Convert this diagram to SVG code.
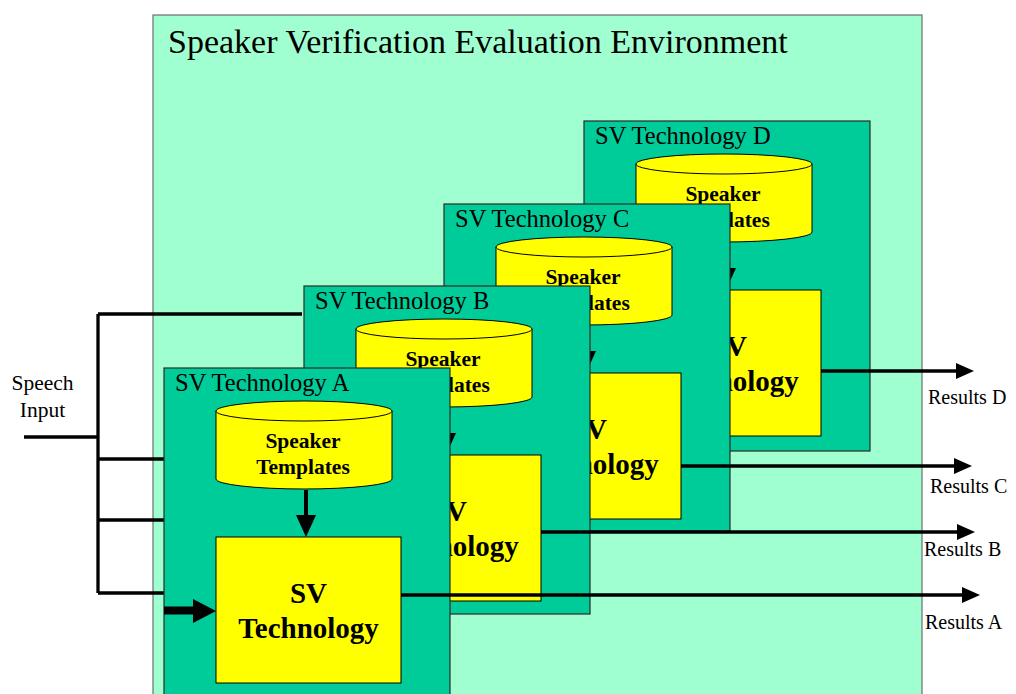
<svg xmlns="http://www.w3.org/2000/svg" width="1016" height="694" viewBox="0 0 1016 694">
<style>
.env{fill:#A0FFD0;stroke:#6E6E6E;stroke-width:1.2}
.panel{fill:#00CC99;stroke:#2A2A2A;stroke-width:1.2}
.yel{fill:#FFFF00;stroke:#000;stroke-width:1}
.ptitle{font-family:"Liberation Serif",serif;font-size:24.5px;fill:#000}
.cyl{font-family:"Liberation Serif",serif;font-size:21.5px;font-weight:bold;fill:#000;text-anchor:middle}
.svt{font-family:"Liberation Serif",serif;font-size:29px;font-weight:bold;fill:#000;text-anchor:middle}
.lbl{font-family:"Liberation Serif",serif;font-size:20px;fill:#000}
.wire{stroke:#000;stroke-width:3.3;fill:none}
.blk{fill:#000;stroke:none}
</style>
<defs>
<marker id="ah" viewBox="0 -8 18 16" markerWidth="18" markerHeight="16" refX="0" refY="0" orient="auto" markerUnits="userSpaceOnUse">
<path d="M0,-8 L18,0 L0,8 Z" fill="#000"/>
</marker>
</defs>

<g id="environment">
<rect class="env" x="153" y="15" width="769" height="700"/>
<text class="lbl" x="168" y="53" style="font-size:34px">Speaker Verification Evaluation Environment</text>
</g>

<g id="speech-input">
<text class="lbl" x="42.5" y="390" text-anchor="middle" style="font-size:21.5px">Speech</text>
<text class="lbl" x="42.5" y="417" text-anchor="middle" style="font-size:21.5px">Input</text>
</g>

<g id="connectors-input">
<path class="wire" d="M24,437 H98 M98,314 V593 M98,314 H302 M98,459 H164 M98,520 H164 M98,593 H164"/>
</g>

<g id="tech-d" transform="translate(584,121)">
<rect class="panel" x="0" y="0" width="286" height="330"/>
<text class="ptitle" x="11" y="23">SV Technology D</text>
<path class="yel" d="M52,43 V111 A88,10 0 0 0 228,111 V43 Z"/>
<ellipse class="yel" cx="140" cy="43" rx="88" ry="10"/>
<text class="cyl" x="139" y="80">Speaker</text>
<text class="cyl" x="139" y="106">Templates</text>
<rect class="blk" x="140" y="122" width="4" height="26"/>
<polygon class="blk" points="132,147 152,147 142,169"/>
<rect class="yel" x="52" y="169" width="185" height="146"/>
<text class="svt" x="144.5" y="235">SV</text>
<text class="svt" x="144.5" y="270">Technology</text>
</g>
<g id="out-d">
<line class="wire" x1="821" y1="371" x2="956" y2="371" marker-end="url(#ah)"/>
<text class="lbl" x="928" y="404">Results D</text>
</g>

<g id="tech-c" transform="translate(444,204)">
<rect class="panel" x="0" y="0" width="286" height="327"/>
<text class="ptitle" x="11" y="23">SV Technology C</text>
<path class="yel" d="M52,43 V111 A88,10 0 0 0 228,111 V43 Z"/>
<ellipse class="yel" cx="140" cy="43" rx="88" ry="10"/>
<text class="cyl" x="139" y="80">Speaker</text>
<text class="cyl" x="139" y="106">Templates</text>
<rect class="blk" x="140" y="122" width="4" height="26"/>
<polygon class="blk" points="132,147 152,147 142,169"/>
<rect class="yel" x="52" y="169" width="185" height="146"/>
<text class="svt" x="144.5" y="235">SV</text>
<text class="svt" x="144.5" y="270">Technology</text>
</g>
<g id="out-c">
<line class="wire" x1="681" y1="466" x2="954" y2="466" marker-end="url(#ah)"/>
<text class="lbl" x="930" y="493">Results C</text>
</g>

<g id="tech-b" transform="translate(304,286)">
<rect class="panel" x="0" y="0" width="286" height="328"/>
<text class="ptitle" x="11" y="23">SV Technology B</text>
<path class="yel" d="M52,43 V111 A88,10 0 0 0 228,111 V43 Z"/>
<ellipse class="yel" cx="140" cy="43" rx="88" ry="10"/>
<text class="cyl" x="139" y="80">Speaker</text>
<text class="cyl" x="139" y="106">Templates</text>
<rect class="blk" x="140" y="122" width="4" height="26"/>
<polygon class="blk" points="132,147 152,147 142,169"/>
<rect class="yel" x="52" y="169" width="185" height="146"/>
<text class="svt" x="144.5" y="235">SV</text>
<text class="svt" x="144.5" y="270">Technology</text>
</g>
<g id="out-b">
<line class="wire" x1="541" y1="532" x2="957" y2="532" marker-end="url(#ah)"/>
<text class="lbl" x="924" y="556">Results B</text>
</g>

<g id="tech-a" transform="translate(164,368)">
<rect class="panel" x="0" y="0" width="286" height="340"/>
<text class="ptitle" x="11" y="23">SV Technology A</text>
<path class="yel" d="M52,43 V111 A88,10 0 0 0 228,111 V43 Z"/>
<ellipse class="yel" cx="140" cy="43" rx="88" ry="10"/>
<text class="cyl" x="139" y="80">Speaker</text>
<text class="cyl" x="139" y="106">Templates</text>
<rect class="blk" x="140" y="122" width="4" height="26"/>
<polygon class="blk" points="132,147 152,147 142,169"/>
<rect class="yel" x="52" y="169" width="185" height="146"/>
<text class="svt" x="144.5" y="235">SV</text>
<text class="svt" x="144.5" y="270">Technology</text>
<rect class="blk" x="0" y="238.5" width="31" height="8"/>
<polygon class="blk" points="29,231 29,255 52,243"/>
</g>
<g id="out-a">
<line class="wire" x1="401" y1="595" x2="962" y2="595" marker-end="url(#ah)"/>
<text class="lbl" x="925" y="629">Results A</text>
</g>
</svg>
